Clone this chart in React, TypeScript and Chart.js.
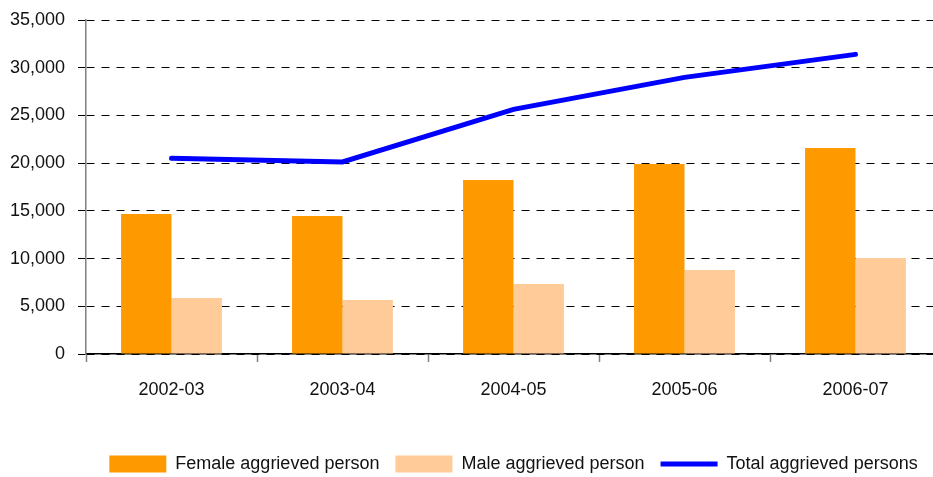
import React, { useEffect, useRef } from "react";
import { Chart, registerables } from "chart.js";

Chart.register(...registerables);

const categories = ["2002-03", "2003-04", "2004-05", "2005-06", "2006-07"];
const femaleValues = [14670, 14460, 18230, 19910, 21590];
const maleValues = [5870, 5660, 7330, 8800, 10060];
const totalValues = [20510, 20120, 25640, 28990, 31400];
const yTicks = [0, 5000, 10000, 15000, 20000, 25000, 30000, 35000];

const FONT = "'Liberation Sans', Arial, sans-serif";

export default function App() {
  const ref = useRef<HTMLCanvasElement | null>(null);
  useEffect(() => {
    if (!ref.current) return;
    const chart = new Chart(ref.current, {
      type: "bar",
      data: {
        labels: categories,
        datasets: [
          {
            type: "line",
            label: "Total aggrieved persons",
            data: totalValues,
            borderColor: "#0000FF",
            backgroundColor: "#0000FF",
            borderWidth: 5,
            pointRadius: 0,
            pointStyle: "line",
            borderCapStyle: "round",
            tension: 0,
            order: 0,
          } as any,
          {
            label: "Female aggrieved person",
            data: femaleValues,
            backgroundColor: "#FF9900",
            borderWidth: 0,
            pointStyle: "rect",
            categoryPercentage: 0.59,
            barPercentage: 1,
            order: 1,
          } as any,
          {
            label: "Male aggrieved person",
            data: maleValues,
            backgroundColor: "#FFCC99",
            borderWidth: 0,
            pointStyle: "rect",
            categoryPercentage: 0.59,
            barPercentage: 1,
            order: 2,
          } as any,
        ],
      },
      options: {
        responsive: false,
        animation: false,
        devicePixelRatio: 1,
        layout: { padding: { top: 20, right: 9, bottom: 0, left: 0 } },
        plugins: {
          tooltip: { enabled: false },
          legend: {
            position: "bottom",
            fullSize: false,
            labels: {
              usePointStyle: true,
              pointStyleWidth: 57,
              boxHeight: 17,
              padding: 16,
              color: "#111",
              font: { family: FONT, size: 18 },
              sort: (a: any, b: any) => {
                const order = ["Female aggrieved person", "Male aggrieved person", "Total aggrieved persons"];
                return order.indexOf(a.text) - order.indexOf(b.text);
              },
            },
          },
        },
        scales: {
          x: {
            offset: true,
            grid: {
              display: true,
              offset: true,
              drawOnChartArea: false,
              drawTicks: true,
              tickLength: 8,
              tickColor: "#808080",
              tickWidth: 1.5,
            },
            border: { display: true, color: "#000", width: 1.5 },
            ticks: {
              color: "#111",
              font: { family: FONT, size: 18 },
              padding: 17,
              maxRotation: 0,
            },
            afterFit: (scale: any) => {
              scale.height = 85;
            },
          },
          y: {
            min: 0,
            max: 35000,
            afterBuildTicks: (scale: any) => {
              scale.ticks = yTicks.map((v) => ({ value: v }));
            },
            grid: {
              color: "#000",
              lineWidth: 1,
              tickLength: 8,
              tickColor: "#000",
              tickBorderDash: [],
              borderDash: [8, 7],
            } as any,
            border: { display: true, color: "#808080", width: 1.5, dash: [8, 7] },
            ticks: {
              color: "#111",
              font: { family: FONT, size: 18 },
              padding: 13,
              callback: (v: any) => Number(v).toLocaleString("en-US"),
            },
            afterFit: (scale: any) => {
              scale.width = 86;
              scale.paddingTop = 5;
            },
          },
        },
      },
    });
    return () => chart.destroy();
  }, []);
  return (
    <div
      style={{
        position: "absolute",
        left: 0,
        top: 0,
        width: 933,
        height: 477,
        overflow: "hidden",
        background: "#fff",
      }}
    >
      <canvas ref={ref} width={950} height={483} style={{ width: 950, height: 483, display: "block" }} />
    </div>
  );
}
